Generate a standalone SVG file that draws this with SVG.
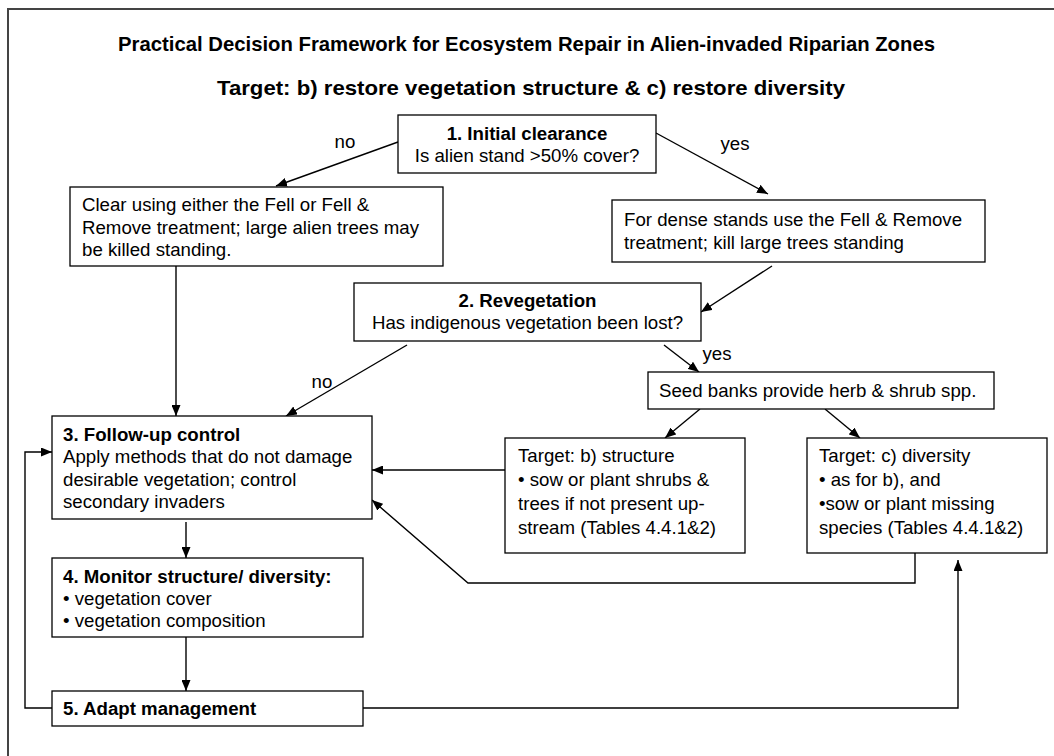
<svg xmlns="http://www.w3.org/2000/svg" width="1054" height="756" viewBox="0 0 1054 756">
<style>
text{font-family:"Liberation Sans",Arial,sans-serif;font-size:18.67px;fill:#000}
.b{font-weight:bold}
.t{font-weight:bold;text-anchor:middle}
.h{font-weight:bold;font-size:20.5px}
.c{text-anchor:middle}
.box{fill:#fff;stroke:#000;stroke-width:1.3}
.ln{fill:none;stroke:#000;stroke-width:1.4}
</style>
<defs>
<marker id="ah" markerUnits="userSpaceOnUse" markerWidth="11" markerHeight="9" refX="11" refY="4.5" orient="auto">
<path d="M0,0 L11,4.5 L0,9 z" fill="#000"/>
</marker>
</defs>
<rect x="0" y="0" width="1054" height="756" fill="#fff"/>
<path d="M8,760 L8,9 L1060,9" fill="none" stroke="#444" stroke-width="2"/>
<text class="h" x="118" y="51" textLength="817" lengthAdjust="spacingAndGlyphs">Practical Decision Framework for Ecosystem Repair in Alien-invaded Riparian Zones</text>
<text class="h" x="217" y="95" textLength="628" lengthAdjust="spacingAndGlyphs">Target: b) restore vegetation structure &amp; c) restore diversity</text>

<g id="connectors">
<line class="ln" x1="398" y1="142" x2="276" y2="186" marker-end="url(#ah)"/>
<line class="ln" x1="656" y1="133" x2="768" y2="194" marker-end="url(#ah)"/>
<line class="ln" x1="772" y1="266" x2="701" y2="312" marker-end="url(#ah)"/>
<line class="ln" x1="176" y1="266" x2="176" y2="416" marker-end="url(#ah)"/>
<line class="ln" x1="407" y1="345" x2="286" y2="416" marker-end="url(#ah)"/>
<line class="ln" x1="664" y1="345" x2="699" y2="372" marker-end="url(#ah)"/>
<line class="ln" x1="700" y1="409" x2="665" y2="438" marker-end="url(#ah)"/>
<line class="ln" x1="825" y1="409" x2="860" y2="438" marker-end="url(#ah)"/>
<line class="ln" x1="505" y1="470" x2="372" y2="470" marker-end="url(#ah)"/>
<polyline class="ln" points="915,553 915,583 468,583 372,500" marker-end="url(#ah)"/>
<line class="ln" x1="186" y1="522" x2="186" y2="558" marker-end="url(#ah)"/>
<line class="ln" x1="186" y1="637" x2="186" y2="691" marker-end="url(#ah)"/>
<polyline class="ln" points="52,708 25,708 25,452 52,452" marker-end="url(#ah)"/>
<polyline class="ln" points="363,708 958,708 958,560" marker-end="url(#ah)"/>
<text class="c" x="345" y="148">no</text>
<text class="c" x="735" y="150">yes</text>
<text class="c" x="322" y="388">no</text>
<text class="c" x="717" y="360">yes</text>
</g>

<g id="n1">
<rect class="box" x="398" y="115" width="258" height="58"/>
<text class="t" x="527" y="140">1. Initial clearance</text>
<text class="c" x="527" y="162">Is alien stand &gt;50% cover?</text>
</g>
<g id="n-clear">
<rect class="box" x="70" y="187" width="373" height="79"/>
<text x="82" y="211">Clear using either the Fell or Fell &amp;</text>
<text x="82" y="233.5">Remove treatment; large alien trees may</text>
<text x="82" y="256">be killed standing.</text>
</g>
<g id="n-dense">
<rect class="box" x="612" y="200" width="373" height="62"/>
<text x="624" y="226">For dense stands use the Fell &amp; Remove</text>
<text x="624" y="249">treatment; kill large trees standing</text>
</g>
<g id="n2">
<rect class="box" x="354" y="283" width="347" height="58"/>
<text class="t" x="527.5" y="306.5">2. Revegetation</text>
<text class="c" x="527.5" y="329">Has indigenous vegetation been lost?</text>
</g>
<g id="n-seed">
<rect class="box" x="648" y="372" width="346" height="37"/>
<text x="659" y="397">Seed banks provide herb &amp; shrub spp.</text>
</g>
<g id="n-targetb">
<rect class="box" x="505" y="438" width="240" height="115"/>
<text x="518" y="462">Target: b) structure</text>
<text x="518" y="486">• sow or plant shrubs &amp;</text>
<text x="518" y="510">trees if not present up-</text>
<text x="518" y="534">stream (Tables 4.4.1&amp;2)</text>
</g>
<g id="n-targetc">
<rect class="box" x="807" y="438" width="240" height="115"/>
<text x="819" y="462">Target: c) diversity</text>
<text x="819" y="486">• as for b), and</text>
<text x="819" y="510">•sow or plant missing</text>
<text x="819" y="534">species (Tables 4.4.1&amp;2)</text>
</g>
<g id="n3">
<rect class="box" x="52" y="416" width="320" height="103"/>
<text class="b" x="63" y="441">3. Follow-up control</text>
<text x="63" y="463">Apply methods that do not damage</text>
<text x="63" y="485.5">desirable vegetation; control</text>
<text x="63" y="508">secondary invaders</text>
</g>
<g id="n4">
<rect class="box" x="52" y="558" width="311" height="79"/>
<text class="b" x="63" y="583">4. Monitor structure/ diversity:</text>
<text x="63" y="605">• vegetation cover</text>
<text x="63" y="627">• vegetation composition</text>
</g>
<g id="n5">
<rect class="box" x="52" y="691" width="311" height="35"/>
<text class="b" x="63" y="715">5. Adapt management</text>
</g>
</svg>
